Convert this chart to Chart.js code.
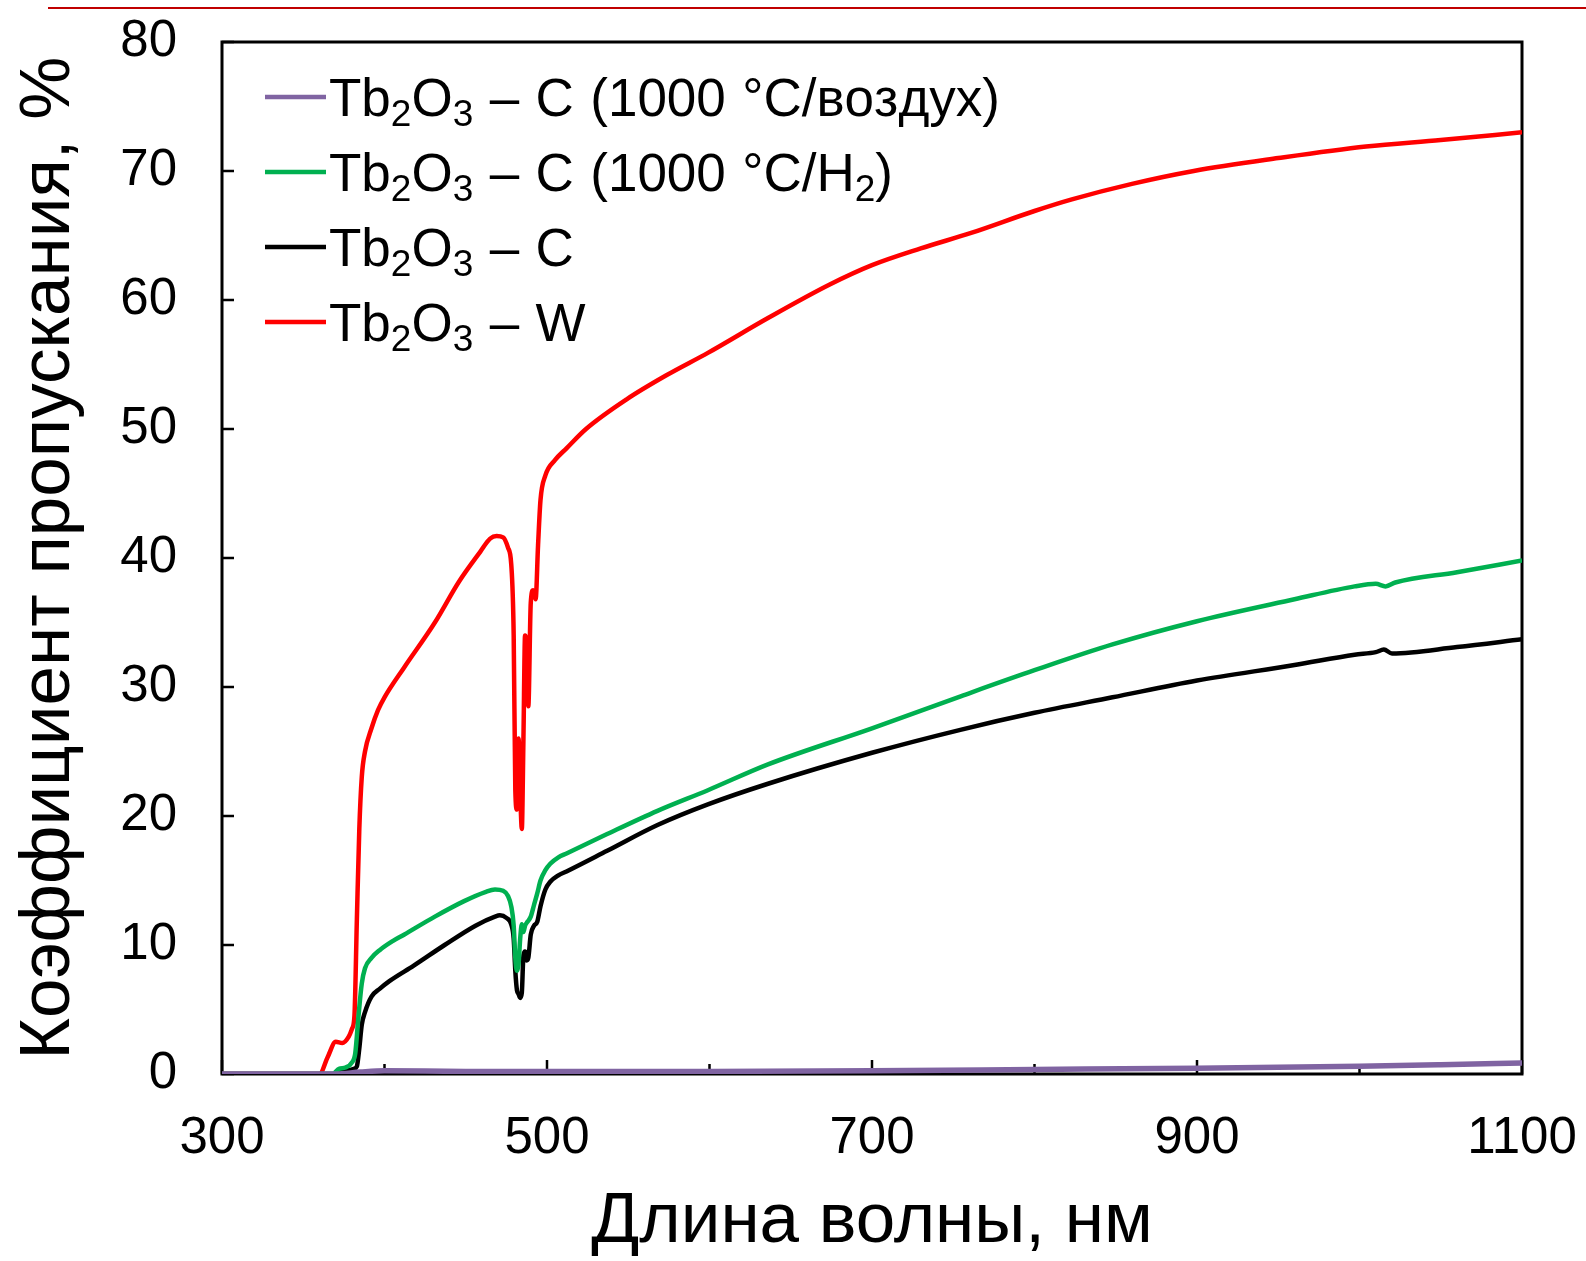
<!DOCTYPE html>
<html>
<head>
<meta charset="utf-8">
<script src="https://cdn.jsdelivr.net/npm/chart.js@4.4.1/dist/chart.umd.min.js"></script>
<style>
html,body{margin:0;padding:0;background:#fff;}
#wrap{position:relative;width:1586px;height:1261px;}
#topline{position:absolute;left:48px;right:0;top:7px;height:2px;background:#c00000;}
canvas{position:absolute;left:0;top:0;}
</style>
</head>
<body>
<div id="wrap"><canvas id="chart" width="1586" height="1261"></canvas><div id="topline"></div></div>
<script>
// wavelengths (nm) and transmission (%)
const wlAir = [300,370,385,400,450,500,600,700,800,900,1000,1050,1100];
const tAir  = [0,0,0.15,0.25,0.2,0.2,0.2,0.25,0.35,0.45,0.6,0.72,0.86];

const wlH2 = [300,368,372,376,380,382,384,386,388,392,397,405,412,431,449,462,468,473,476,478,479.5,480.5,481.5,482.5,483.5,484.5,485.5,486.5,488,490,492,494,496,499,502,507,512,537,568,599,636,700,755,800,848,900,960,997,1010,1016,1022,1060,1100];
const tH2  = [0,0,0.4,0.5,0.9,1.6,4.5,7,8.2,9,9.6,10.3,10.8,12.2,13.4,14.1,14.3,14.2,13.8,13,11.5,9,8,8.5,10.5,11.6,11,11.5,11.8,12.2,13.1,14,15,15.8,16.3,16.8,17.1,18.6,20.4,22,24,26.8,29.3,31.3,33.3,35.1,36.8,37.8,38.0,37.8,38.1,38.9,39.8];

const wlC = [300,368,374,378,381,383,384.5,386,388,392,397,403,418,437,456,468,471,475,478,479.5,480.5,481.5,482.5,483.5,484.5,485.5,486.5,487.5,488.5,490,492,494,496,499,502,507,512,537,568,599,636,700,755,800,848,900,960,997,1010,1015,1020,1060,1100];
const tC  = [0,0,0.2,0.3,0.4,0.6,2,3.8,4.8,6,6.6,7.2,8.4,10,11.5,12.2,12.3,12.1,11.6,10.5,8,6.5,6.2,5.9,6.3,9.2,9.5,8.8,9.0,10.8,11.5,11.8,13.0,14.3,14.9,15.4,15.7,17.3,19.3,20.9,22.5,24.9,26.7,28.0,29.2,30.5,31.7,32.5,32.7,32.9,32.6,33.1,33.7];

const wlW = [300,360,365,370,374,378,380,381.5,383,384.5,386,388,392,396,400,412,431,446,459,465,469,473,476,478,479.5,480.5,481.5,482.5,483.5,484.5,485.5,486.5,487.5,488.5,490,491.5,493,494.5,496,499,505,512,524,549,574,599,636,674,700,730,761,800,823,860,898,950,1004,1050,1100];
const tW  = [0,0,1.3,2.5,2.4,2.9,3.5,4.5,12,19,23,25,26.8,28.2,29.2,31.5,35,38.2,40.5,41.5,41.7,41.6,40.8,39.5,34,22,20.5,26,22,19,26,34,33,28.5,36.5,37.5,36.8,41,44.5,46.4,47.6,48.5,50,52.3,54.2,55.9,58.6,61.2,62.7,64.0,65.2,66.9,67.8,69.0,70.0,71.0,71.9,72.4,73.0];

const labels = ['Tb₂O₃ – C (1000 °C/воздух)','Tb₂O₃ – C (1000 °C/H₂)','Tb₂O₃ – C','Tb₂O₃ – W'];
const colors = ['#8064a2','#00b050','#000000','#ff0000'];
const xTitle = 'Длина волны, нм';
const yTitle = 'Коэффициент пропускания, %';

const FONT = '"Liberation Sans", Arial, sans-serif';
const pts = (xs,ys)=>xs.map((x,i)=>({x,y:ys[i]}));

const frameTicks = {
  id:'frameTicks',
  beforeDatasetsDraw(chart){
    const {ctx, chartArea:a, scales:{x,y}} = chart;
    ctx.save();
    ctx.strokeStyle='#000'; ctx.lineWidth=3;
    ctx.strokeRect(a.left,a.top,a.right-a.left,a.bottom-a.top);
    ctx.lineWidth=2.5; ctx.beginPath();
    x.ticks.forEach(t=>{const px=x.getPixelForValue(t.value);const len=(t.value-300)%200===0?14:10;ctx.moveTo(px,a.bottom);ctx.lineTo(px,a.bottom-len);});
    y.ticks.forEach(t=>{const py=y.getPixelForValue(t.value);ctx.moveTo(a.left,py);ctx.lineTo(a.left+12,py);});
    ctx.stroke(); ctx.restore();
  }
};

// legend with real subscripts
const SUB = {'₀':'0','₁':'1','₂':'2','₃':'3','₄':'4','₅':'5','₆':'6','₇':'7','₈':'8','₉':'9'};
const subLegend = {
  id:'subLegend',
  afterDatasetsDraw(chart){
    const ctx=chart.ctx, a=chart.chartArea;
    ctx.save();
    chart.data.datasets.forEach((ds,i)=>{
      const base=a.top+74+i*75, mid=base-19;
      ctx.strokeStyle=ds.borderColor; ctx.lineWidth=4.5; ctx.lineCap='butt';
      ctx.beginPath(); ctx.moveTo(a.left+43,mid); ctx.lineTo(a.left+104,mid); ctx.stroke();
      let x0=a.left+107;
      ctx.fillStyle='#000'; ctx.textBaseline='alphabetic'; ctx.textAlign='left';
      for(const ch of ds.label){
        const isSub=SUB[ch]!==undefined;
        ctx.font=(isSub?'37px ':'53px ')+FONT;
        const c=isSub?SUB[ch]:(ch===' '?'\u2002':ch);
        ctx.fillText(c,x0,isSub?base+10:base);
        x0+=ctx.measureText(c).width*(ch===' '?0.62:1);
      }
    });
    ctx.restore();
  }
};

new Chart(document.getElementById('chart'),{
  type:'line',
  data:{datasets:[
    {label:labels[0],data:pts(wlAir,tAir),borderColor:colors[0],borderWidth:5.5},
    {label:labels[1],data:pts(wlH2,tH2),borderColor:colors[1],borderWidth:4.5},
    {label:labels[2],data:pts(wlC,tC),borderColor:colors[2],borderWidth:4.5},
    {label:labels[3],data:pts(wlW,tW),borderColor:colors[3],borderWidth:4.5}
  ]},
  options:{
    responsive:false,animation:false,devicePixelRatio:1,
    layout:{padding:{top:42,right:64,left:0,bottom:0}},
    elements:{point:{radius:0},line:{cubicInterpolationMode:'monotone',borderJoinStyle:'round'}},
    plugins:{legend:{display:false},tooltip:{enabled:false}},
    scales:{
      x:{type:'linear',min:300,max:1100,
        grid:{display:false,drawTicks:false},border:{display:false},
        ticks:{stepSize:100,autoSkip:false,maxRotation:0,padding:34,color:'#000',font:{family:FONT,size:51},
          callback:v=>((v-300)%200===0?v:'')},
        title:{display:true,text:xTitle,color:'#000',font:{family:FONT,size:71},padding:{top:0,bottom:-4}},
        afterFit:s=>{s.height=187;s.paddingLeft=0;s.paddingRight=0;}
      },
      y:{min:0,max:80,
        grid:{display:false,drawTicks:false},border:{display:false},
        ticks:{stepSize:10,padding:45,color:'#000',font:{family:FONT,size:51}},
        title:{display:true,text:yTitle,color:'#000',font:{family:FONT,size:71},padding:{top:7,bottom:0}},
        afterFit:s=>{s.width=222;s.paddingTop=0;s.paddingBottom=0;}
      }
    }
  },
  plugins:[frameTicks,subLegend]
});
</script>
</body>
</html>
